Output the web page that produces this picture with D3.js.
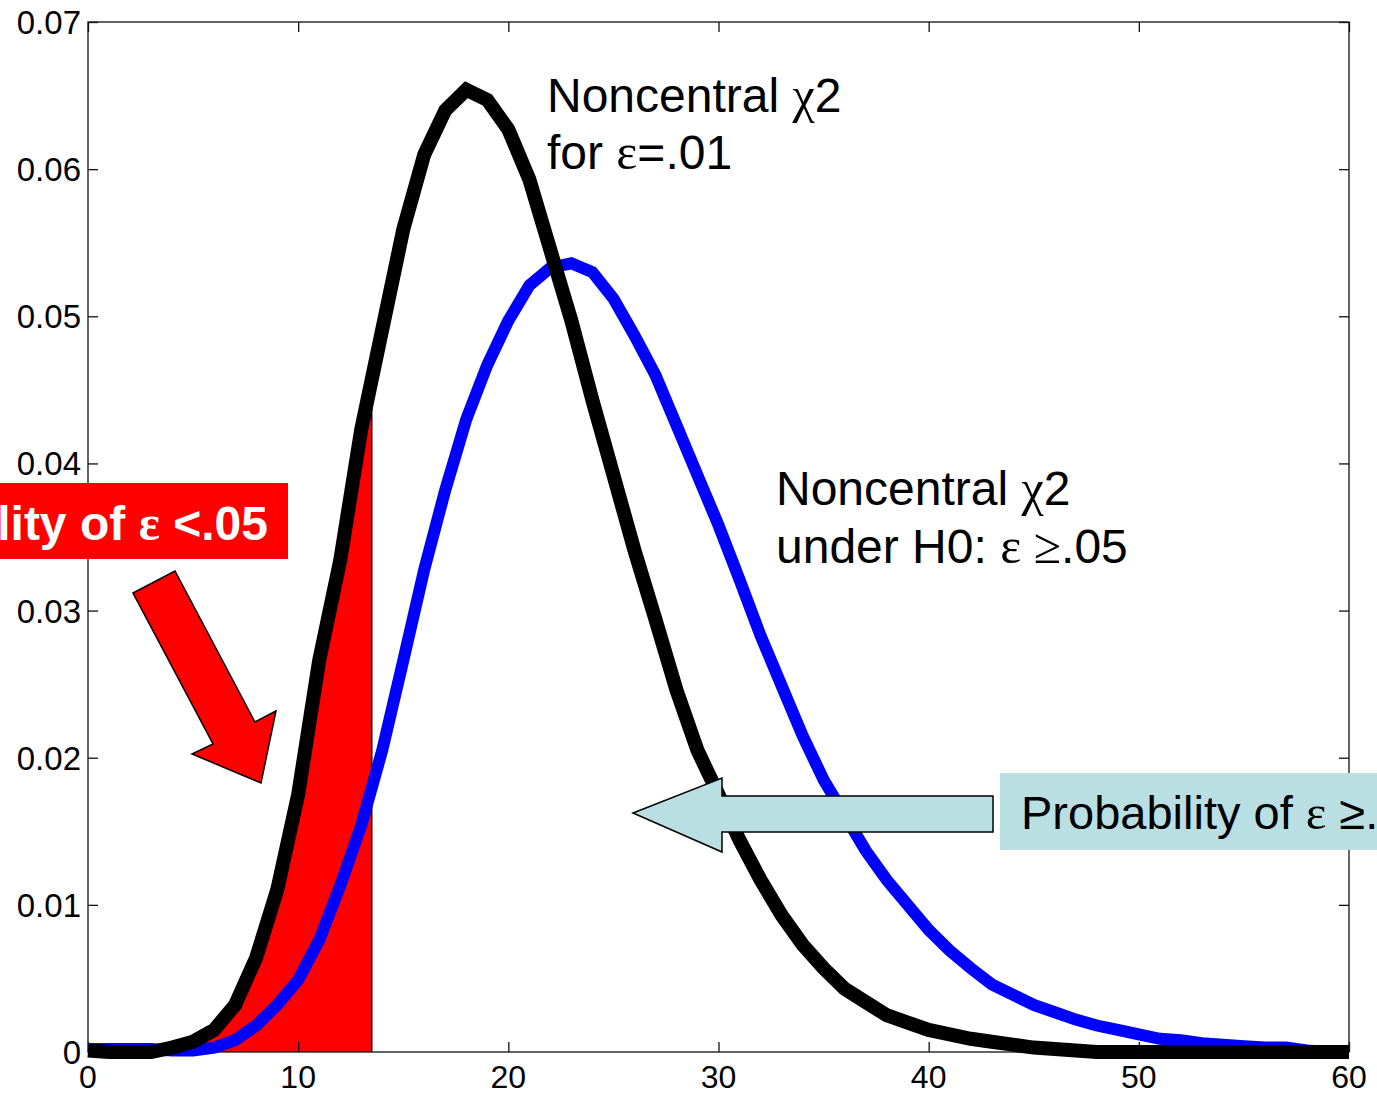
<!DOCTYPE html>
<html>
<head>
<meta charset="utf-8">
<script src="https://cdn.jsdelivr.net/npm/d3@7/dist/d3.min.js"></script>
<style>
  body { margin: 0; background: white; }
  svg { display: block; }
</style>
</head>
<body>
<svg id="chart"></svg>
<script>
// chi-square values 0..60, one point per unit
const xValues = d3.range(0, 61)

// noncentral chi2 for eps=.01 (black)
const blackValues = [
  0.0001, 0, 0, 0, 0.0003, 0.0007, 0.0015, 0.0032, 0.0064, 0.011,
  0.0175, 0.0266, 0.0334, 0.0423, 0.0491, 0.0559, 0.061, 0.064, 0.0654, 0.0647,
  0.0627, 0.0593, 0.0545, 0.0497, 0.0443, 0.0392, 0.0341, 0.0294, 0.0246, 0.0205,
  0.0175, 0.0144, 0.0117, 0.0093, 0.0073, 0.0057, 0.0043, 0.0034, 0.0025, 0.002,
  0.0015, 0.0012, 0.0009, 0.0007, 0.0005, 0.0003, 0.0002, 0.0001, 0, 0,
  0, 0, 0, 0, 0, 0, 0, 0, 0, 0, 0
]

// noncentral chi2 under H0: eps >= .05 (blue)
const blueValues = [
  0.0002, 0.0002, 0.0002, 0.0002, 0.0001, 0.0001, 0.0003, 0.0008, 0.0018, 0.0032,
  0.0049, 0.0076, 0.0113, 0.0154, 0.0205, 0.0266, 0.0328, 0.0382, 0.043, 0.0467,
  0.0497, 0.0521, 0.0533, 0.0536, 0.053, 0.0512, 0.0487, 0.046, 0.0426, 0.0392,
  0.0358, 0.0321, 0.0283, 0.0249, 0.0215, 0.0185, 0.0161, 0.0137, 0.0117, 0.01,
  0.0083, 0.0069, 0.0057, 0.0046, 0.0039, 0.0032, 0.0027, 0.0022, 0.0018, 0.0015,
  0.0012, 0.0009, 0.0008, 0.0006, 0.0005, 0.0004, 0.0003, 0.0003, 0.0001, 0, 0
]

const criticalX = 13.5

const xTicks = [0, 10, 20, 30, 40, 50, 60]
const yTicks = [0, 0.01, 0.02, 0.03, 0.04, 0.05, 0.06, 0.07]
const yTickLabels = ['0', '0.01', '0.02', '0.03', '0.04', '0.05', '0.06', '0.07']

const svgw = 1377
const svgh = 1095
const sans = 'Arial, "Liberation Sans", Helvetica, sans-serif'
const serif = '"Times New Roman", "Liberation Serif", "DejaVu Serif", serif'

const svg = d3.select('#chart')
    .attr('width', svgw)
    .attr('height', svgh)

const xScale = d3.scaleLinear()
    .domain([0, 60])
    .range([88, 1349])
const yScale = d3.scaleLinear()
    .domain([0, 0.07])
    .range([1052, 22])

const blackData = xValues.map((x, i) => [x, blackValues[i]])
const blueData = xValues.map((x, i) => [x, blueValues[i]])

// red area under the black curve, left of the cut
svg.append('clipPath')
    .attr('id', 'cut')
    .append('rect')
    .attr('x', xScale(0))
    .attr('y', yScale(0.07))
    .attr('width', xScale(criticalX) - xScale(0))
    .attr('height', yScale(0) - yScale(0.07))

const area = d3.area()
    .x(d => xScale(d[0]))
    .y0(yScale(0))
    .y1(d => yScale(d[1]))

svg.append('path')
    .datum(blackData)
    .attr('d', area)
    .attr('fill', '#ff0000')
    .attr('clip-path', 'url(#cut)')

svg.append('clipPath')
    .attr('id', 'under')
    .append('path')
    .datum(blackData)
    .attr('d', area)

svg.append('line')
    .attr('x1', xScale(criticalX))
    .attr('x2', xScale(criticalX))
    .attr('y1', yScale(0))
    .attr('y2', yScale(0.07))
    .attr('stroke', 'black')
    .attr('stroke-width', 1.5)
    .attr('clip-path', 'url(#under)')

// axes box
const axisColor = '#111'
svg.append('rect')
    .attr('x', xScale(0))
    .attr('y', yScale(0.07))
    .attr('width', xScale(60) - xScale(0))
    .attr('height', yScale(0) - yScale(0.07))
    .attr('fill', 'none')
    .attr('stroke', axisColor)
    .attr('stroke-width', 1.3)

const xAxis = d3.axisBottom(xScale)
    .tickValues(xTicks)
    .tickSize(-10)
    .tickFormat('')
const xAxisTop = d3.axisTop(xScale)
    .tickValues(xTicks)
    .tickSize(-10)
    .tickFormat('')
const yAxis = d3.axisLeft(yScale)
    .tickValues(yTicks)
    .tickSize(-10)
    .tickFormat('')
const yAxisRight = d3.axisRight(yScale)
    .tickValues(yTicks)
    .tickSize(-10)
    .tickFormat('')

const axes = [
    [xAxis, `translate(0, ${yScale(0)})`],
    [xAxisTop, `translate(0, ${yScale(0.07)})`],
    [yAxis, `translate(${xScale(0)}, 0)`],
    [yAxisRight, `translate(${xScale(60)}, 0)`]
]
axes.forEach(([ax, tr]) => {
    const g = svg.append('g').attr('transform', tr).call(ax)
    g.select('.domain').remove()
    g.selectAll('.tick line').attr('stroke', axisColor).attr('stroke-width', 1.3)
})

svg.append('g')
    .selectAll('text')
    .data(xTicks)
    .join('text')
    .attr('x', d => xScale(d))
    .attr('y', 1088)
    .attr('text-anchor', 'middle')
    .style('font-family', sans)
    .style('font-size', '32px')
    .text(d => d)

svg.append('g')
    .selectAll('text')
    .data(yTicks)
    .join('text')
    .attr('x', 81)
    .attr('y', d => yScale(d) + 12)
    .attr('text-anchor', 'end')
    .style('font-family', sans)
    .style('font-size', '33px')
    .text((d, i) => yTickLabels[i])

// curves
const line = d3.line()
    .x(d => xScale(d[0]))
    .y(d => yScale(d[1]))

svg.append('path')
    .datum(blueData)
    .attr('d', line)
    .attr('fill', 'none')
    .attr('stroke', '#0000ff')
    .attr('stroke-width', 12)

svg.append('path')
    .datum(blackData)
    .attr('d', line)
    .attr('fill', 'none')
    .attr('stroke', 'black')
    .attr('stroke-width', 14)

// text labels with greek letters in serif
function label(x, y, parts, opts = {}) {
    const t = svg.append('text')
        .attr('x', x)
        .attr('y', y)
        .attr('text-anchor', opts.anchor || 'start')
        .style('font-family', sans)
        .style('font-size', (opts.size || 48) + 'px')
        .style('font-weight', opts.weight || 'normal')
        .style('fill', opts.fill || 'black')
    parts.forEach(p => {
        const s = t.append('tspan').text(p[0])
        if (p[1]) s.style('font-family', serif).style('font-size', (opts.size || 48) + 2 + 'px')
    })
    return t
}

label(547, 112, [['Noncentral '], ['χ', 1], ['2']])
label(547, 169, [['for '], ['ε', 1], ['=.01']])
label(776, 505, [['Noncentral '], ['χ', 1], ['2']])
label(776, 563, [['under H0: '], ['ε ≥', 1], ['.05']])

// red callout
svg.append('rect')
    .attr('x', 0)
    .attr('y', 483)
    .attr('width', 288)
    .attr('height', 76)
    .attr('fill', '#ff0000')
label(268, 540, [['Probability of '], ['ε', 1], [' <.05']], { anchor: 'end', weight: 'bold', fill: 'white', size: 48 })

svg.append('polygon')
    .attr('points', [[133, 593], [175, 571], [255, 722], [276, 711], [261, 783], [192, 754], [213, 744]].join(' '))
    .attr('fill', '#ff0000')
    .attr('stroke', 'black')
    .attr('stroke-width', 1.5)

// light blue callout
svg.append('polygon')
    .attr('points', [[633, 813], [722, 778], [722, 796], [993, 796], [993, 832], [722, 832], [722, 852]].join(' '))
    .attr('fill', '#b9dfe3')
    .attr('stroke', 'black')
    .attr('stroke-width', 1.5)

svg.append('rect')
    .attr('x', 1000)
    .attr('y', 773)
    .attr('width', 400)
    .attr('height', 77)
    .attr('fill', '#b9dfe3')
label(1021, 829, [['Probability of '], ['ε', 1], [' ≥.05']], { size: 47 })
</script>
</body>
</html>
